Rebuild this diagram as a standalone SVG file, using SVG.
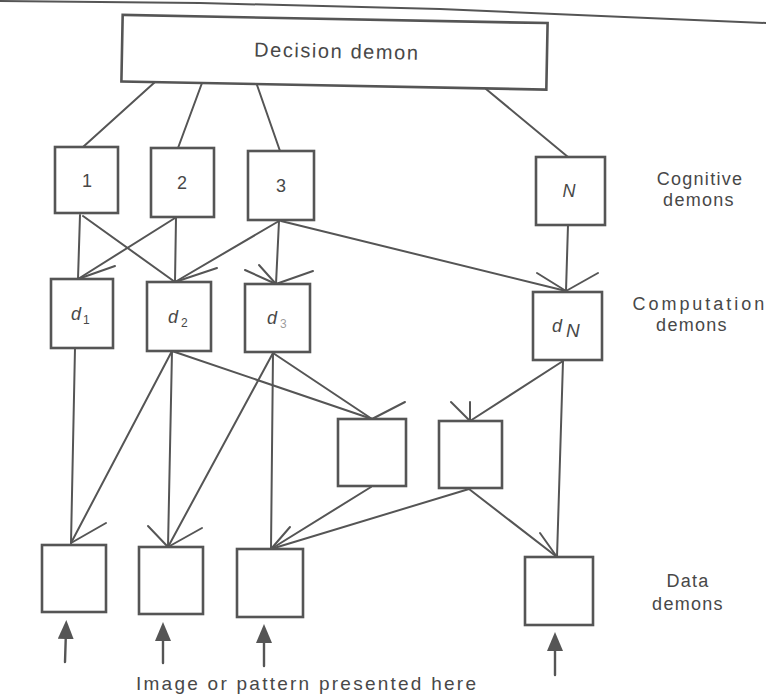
<svg xmlns="http://www.w3.org/2000/svg" width="766" height="698" viewBox="0 0 766 698">
  <defs>
    <style>
      .box { fill: #ffffff; stroke: #555555; stroke-width: 2.6; }
      .ln { fill: none; stroke: #555555; stroke-width: 2; stroke-linecap: round; }
      .lbl { font-family: "Liberation Sans", Arial, sans-serif; fill: #484848; }
      .side { font-size: 18px; letter-spacing: 1.3px; text-anchor: middle; }
      .num { font-size: 18px; text-anchor: middle; }
      .it { font-style: italic; }
    </style>
    <marker id="inHead" viewBox="0 0 19 16" refX="9" refY="8" markerWidth="19" markerHeight="16" markerUnits="userSpaceOnUse" orient="auto">
      <path d="M0,0 L19,8 L0,16 z" fill="#555555"/>
    </marker>
  </defs>

  <rect width="766" height="698" fill="#ffffff"/>

  <!-- page edge line at the top -->
  <polyline class="ln" points="0,1 200,3 440,9 766,23"/>

  <!-- decision demon -->
  <g id="decision">
    <g transform="rotate(1.1 334.5 52.25)">
      <rect class="box" x="122" y="19" width="425" height="66.5"/>
      <text class="lbl" x="254" y="58" font-size="20" textLength="164" lengthAdjust="spacing">Decision demon</text>
    </g>
  </g>

  <!-- cognitive demons -->
  <g id="cog1">
    <rect class="box" x="55" y="147" width="63" height="66"/>
    <text class="lbl num" x="87" y="187">1</text>
  </g>
  <g id="cog2">
    <rect class="box" x="151" y="148" width="63" height="69"/>
    <text class="lbl num" x="182" y="189">2</text>
  </g>
  <g id="cog3">
    <rect class="box" x="248" y="151" width="66" height="69"/>
    <text class="lbl num" x="281" y="192">3</text>
  </g>
  <g id="cogN">
    <rect class="box" x="536" y="157" width="69" height="68"/>
    <text class="lbl num it" x="569" y="197">N</text>
  </g>

  <!-- computation demons -->
  <g id="comp1">
    <rect class="box" x="51" y="279" width="62" height="69"/>
    <text class="lbl it" x="71" y="320" font-size="18">d</text>
    <text class="lbl" x="83" y="324" font-size="12">1</text>
  </g>
  <g id="comp2">
    <rect class="box" x="147" y="282" width="64" height="69"/>
    <text class="lbl it" x="168" y="323" font-size="18">d</text>
    <text class="lbl" x="181" y="327" font-size="12">2</text>
  </g>
  <g id="comp3">
    <rect class="box" x="245" y="284" width="65" height="68"/>
    <text class="lbl it" x="267" y="324" font-size="18">d</text>
    <text class="lbl" x="280" y="328" font-size="12" fill-opacity="0.55">3</text>
  </g>
  <g id="compN">
    <rect class="box" x="533" y="292" width="69" height="68"/>
    <text class="lbl it" x="552" y="332" font-size="18">d</text>
    <text class="lbl it" x="566" y="337" font-size="19">N</text>
  </g>

  <!-- intermediate demons -->
  <g id="mid1">
    <rect class="box" x="338" y="419" width="68" height="67"/>
  </g>
  <g id="mid2">
    <rect class="box" x="439" y="421" width="63" height="67"/>
  </g>

  <!-- data demons -->
  <g id="data1">
    <rect class="box" x="42" y="545" width="64" height="67"/>
  </g>
  <g id="data2">
    <rect class="box" x="139" y="547" width="64" height="67"/>
  </g>
  <g id="data3">
    <rect class="box" x="237" y="549" width="66" height="68"/>
  </g>
  <g id="data4">
    <rect class="box" x="525" y="557" width="68" height="68"/>
  </g>

  <!-- row captions -->
  <g id="captions">
    <text class="lbl side" x="700" y="185">Cognitive</text>
    <text class="lbl side" x="699" y="206">demons</text>
    <text class="lbl side" x="699" y="310" textLength="133" lengthAdjust="spacing">Computation</text>
    <text class="lbl side" x="692" y="331">demons</text>
    <text class="lbl side" x="688" y="587">Data</text>
    <text class="lbl side" x="688" y="610">demons</text>
    <text class="lbl" x="136" y="690" font-size="19" textLength="340" lengthAdjust="spacing">Image or pattern presented here</text>
  </g>

  <!-- connectors -->
  <g id="connectors" class="ln">
    <!-- decision to cognitive -->
    <line x1="155" y1="82" x2="83" y2="147"/>
    <line x1="202" y1="83" x2="178" y2="148"/>
    <line x1="257" y1="85" x2="280" y2="151"/>
    <line x1="486" y1="89" x2="568" y2="157"/>

    <!-- cognitive to computation -->
    <line x1="80" y1="215" x2="78" y2="279"/>
    <line x1="83" y1="216" x2="175" y2="282"/>
    <line x1="175" y1="218" x2="78" y2="279"/>
    <line x1="176" y1="218" x2="175" y2="282"/>
    <line x1="279" y1="221" x2="175" y2="282"/>
    <line x1="279" y1="221" x2="276" y2="284"/>
    <line x1="281" y1="221" x2="566" y2="291"/>
    <line x1="568" y1="225" x2="566" y2="291"/>
    <!-- open barbs at computation inputs -->
    <line x1="78" y1="279" x2="115" y2="266"/>
    <line x1="175" y1="282" x2="217" y2="268"/>
    <line x1="276" y1="284" x2="245" y2="270"/>
    <line x1="276" y1="284" x2="259" y2="265"/>
    <line x1="276" y1="284" x2="313" y2="271"/>
    <line x1="566" y1="291" x2="537" y2="273"/>
    <line x1="566" y1="291" x2="598" y2="273"/>

    <!-- computation to intermediate and data -->
    <line x1="75" y1="348" x2="71" y2="543"/>
    <line x1="172" y1="351" x2="71" y2="543"/>
    <line x1="172" y1="351" x2="168" y2="547"/>
    <line x1="172" y1="351" x2="372" y2="419"/>
    <line x1="273" y1="353" x2="168" y2="547"/>
    <line x1="273" y1="353" x2="271" y2="549"/>
    <line x1="273" y1="353" x2="372" y2="419"/>
    <line x1="563" y1="361" x2="470" y2="421"/>
    <line x1="563" y1="361" x2="557" y2="557"/>
    <line x1="371" y1="487" x2="271" y2="549"/>
    <line x1="469" y1="489" x2="271" y2="549"/>
    <line x1="469" y1="489" x2="557" y2="557"/>
    <!-- open barbs at intermediate and data inputs -->
    <line x1="71" y1="543" x2="106" y2="523"/>
    <line x1="168" y1="547" x2="148" y2="526"/>
    <line x1="168" y1="547" x2="202" y2="528"/>
    <line x1="372" y1="419" x2="405" y2="402"/>
    <line x1="470" y1="421" x2="451" y2="402"/>
    <line x1="470" y1="421" x2="470" y2="402"/>
    <line x1="271" y1="549" x2="290" y2="527"/>
    <line x1="557" y1="557" x2="540" y2="533"/>

    <!-- image input arrows -->
    <line x1="65" y1="662" x2="66" y2="630" stroke-width="2.4" marker-end="url(#inHead)"/>
    <line x1="163" y1="663" x2="163" y2="632" stroke-width="2.4" marker-end="url(#inHead)"/>
    <line x1="264" y1="666" x2="264" y2="634" stroke-width="2.4" marker-end="url(#inHead)"/>
    <line x1="555" y1="675" x2="555" y2="642" stroke-width="2.4" marker-end="url(#inHead)"/>
  </g>
</svg>
